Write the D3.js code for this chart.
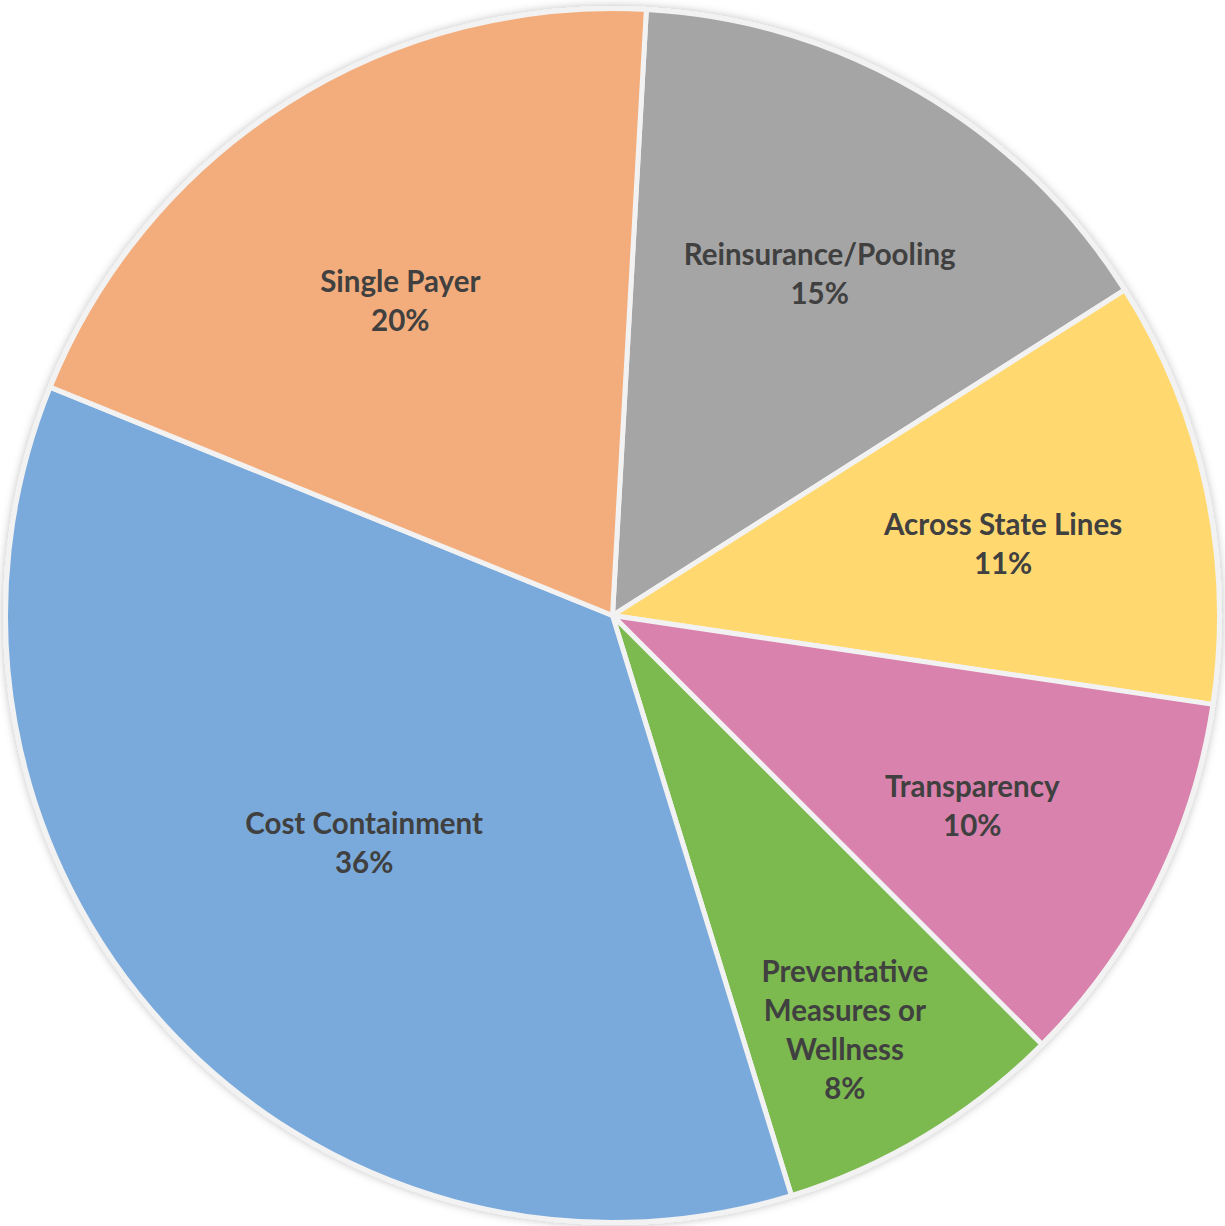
<!DOCTYPE html>
<html>
<head>
<meta charset="utf-8">
<script src="https://cdn.jsdelivr.net/npm/d3@7/dist/d3.min.js"></script>
<style>
  html, body { margin: 0; padding: 0; background: #ffffff; }
  svg { display: block; }
</style>
</head>
<body>
<svg id="chart" width="1225" height="1226"></svg>
<script>
const categories = ["Reinsurance/Pooling", "Across State Lines", "Transparency", "Preventative Measures or Wellness", "Cost Containment", "Single Payer"];
const values = [15.1, 11.35, 10.15, 7.75, 35.9, 19.75];
const percentLabels = ["15%", "11%", "10%", "8%", "36%", "20%"];
const labelLines = [["Reinsurance/Pooling"], ["Across State Lines"], ["Transparency"], ["Preventative", "Measures or", "Wellness"], ["Cost Containment"], ["Single Payer"]];
const colors = ["#A5A5A5", "#FFD96F", "#D882AD", "#7CB94F", "#7AAADB", "#F3AD7C"];

const W = 1225, H = 1226;
const cx = 612.5, cy = 615.5, R = 607;
const startDeg = 3.2;
const labelRadius = [399, 397, 407, 475, 337, 379];
const labelAngleShift = [0.9, 1.7, 1.2, 1.8, 0, -1.7];
const lineH = 39;

const svg = d3.select("#chart");
const defs = svg.append("defs");
const f = defs.append("filter").attr("id", "shadow").attr("x", "-10%").attr("y", "-10%").attr("width", "120%").attr("height", "120%");
f.append("feDropShadow").attr("dx", 0).attr("dy", 0).attr("stdDeviation", 4).attr("flood-color", "#000").attr("flood-opacity", 0.25);

const g = svg.append("g").attr("transform", `translate(${cx},${cy})`);

const pie = d3.pie().sort(null).value(d => d.v)
  .startAngle(startDeg * Math.PI / 180)
  .endAngle(startDeg * Math.PI / 180 + 2 * Math.PI);
const data = categories.map((c, i) => ({ c, v: values[i], i }));
const arcs = pie(data);
const arc = d3.arc().innerRadius(0).outerRadius(R);

const slices = g.append("g").attr("filter", "url(#shadow)");
slices.selectAll("path").data(arcs).join("path")
  .attr("d", arc)
  .attr("fill", d => colors[d.data.i])
  .attr("stroke", "#F2F2F2")
  .attr("stroke-width", 5)
  .attr("stroke-linejoin", "round");

const labels = g.append("g")
  .attr("font-family", "Lato, 'Open Sans', sans-serif")
  .attr("font-weight", "bold")
  .attr("font-size", 29.5)
  .attr("fill", "#404040")
  .attr("text-anchor", "middle");

arcs.forEach(d => {
  const i = d.data.i;
  const mid = (d.startAngle + d.endAngle) / 2 + labelAngleShift[i] * Math.PI / 180;
  const x = labelRadius[i] * Math.sin(mid);
  const y = -labelRadius[i] * Math.cos(mid);
  const lines = labelLines[i].concat([percentLabels[i]]);
  const n = lines.length;
  const t = labels.append("text").attr("transform", `translate(${x},${y})`);
  lines.forEach((ln, k) => {
    t.append("tspan").attr("x", 0)
      .attr("y", (k - (n - 1) / 2) * lineH)
      .attr("dy", "0.35em")
      .text(ln);
  });
});
</script>
</body>
</html>
